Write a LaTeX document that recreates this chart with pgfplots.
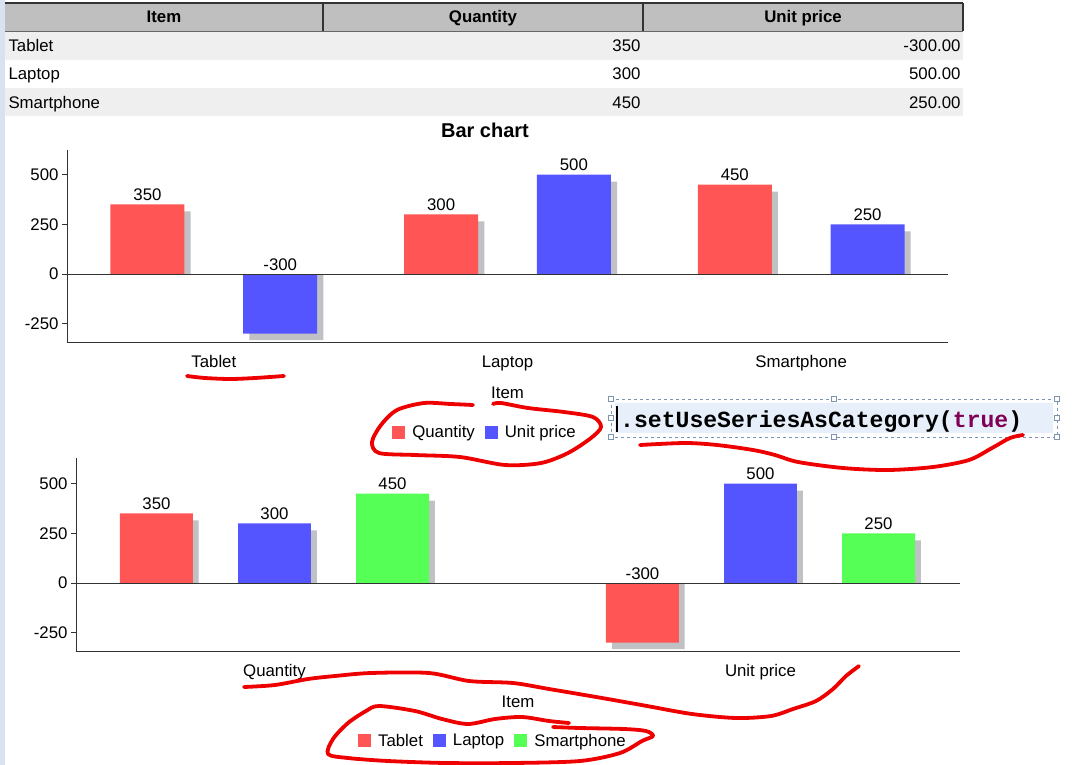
\documentclass[border=0pt]{standalone}
\usepackage{pgfplots}
\pgfplotsset{compat=1.18}
\usepackage{fontspec}
\setmainfont{Liberation Sans}
\newfontfamily\codefont{Liberation Mono}
\usepackage{xcolor}
\definecolor{barred}{HTML}{FF5555}
\definecolor{barblue}{HTML}{5555FF}
\definecolor{bargreen}{HTML}{55FF55}
\definecolor{shadowgray}{HTML}{C0C1C4}
\definecolor{hdrgray}{HTML}{BFBFBF}
\definecolor{rowgray}{HTML}{EFEFEF}
\definecolor{strip}{HTML}{D9E3EF}
\definecolor{codebg}{HTML}{E6EFFA}
\definecolor{codeline}{HTML}{7C94B0}
\definecolor{kw}{HTML}{7F0055}
\definecolor{ink}{HTML}{EE0000}
\newcommand\fs{\fontsize{16.8}{20}\selectfont}

\pgfplotsset{
  jfree/.style={
    scale only axis, anchor=south west,
    axis lines*=left,
    axis line style={draw=black!80, line width=0.8pt},
    tick align=outside, major tick length=5pt,
    ytick={-250,0,250,500}, ytick pos=left,
    y tick style={black!80, line width=0.8pt},
    x tick style={draw=none},
    tick label style={font=\fs},
    /pgf/number format/assume math mode=true,
    xticklabel style={yshift=-5pt},
    every axis x label/.style={at={(axis description cs:0.5,0)}, anchor=center, yshift=-51pt, font=\fs},
    legend columns=-1,
    legend style={draw=none, fill=none, font=\fs, anchor=center,
      /tikz/every odd column/.append style={column sep=5pt},
      /tikz/every even column/.append style={column sep=8pt}},
    legend image code/.code={\fill[##1] (0pt,-6.5pt) rectangle (13pt,6.5pt);},
    nodes near coords style={font=\fs, black},
    clip=false,
  },
  shadow/.style={ybar, fill=shadowgray, draw=none, forget plot},
  % value labels: zero-height bars at the top of each bar (or at 0 for negative ones)
  lbl/.style={ybar, bar shift=0, draw=none, fill=none, forget plot, point meta=explicit symbolic,
    nodes near coords={\pgfplotspointmeta},
    every node near coord/.append style={xshift=#1}},
}

\begin{document}
\begin{tikzpicture}[x=1pt, y=1pt, font=\fs]
% background, side strip and data table
\begin{scope}[yscale=-1]
\fill[white] (0,0) rectangle (1076,765);
\fill[strip] (0,0) rectangle (5,765);
\fill[hdrgray] (5,3) rectangle (963,31);
\fill[rowgray] (5,31) rectangle (963,60);
\fill[rowgray] (5,88) rectangle (963,116);
\draw[black!80, line width=1.5pt] (5,3) -- (963,3);
\draw[black!60, line width=0.8pt] (5,31) -- (963,31);
\foreach \xx in {323,643,963} \draw[black!80, line width=1.5pt] (\xx,3) -- (\xx,31);
\node[font=\fs\bfseries, anchor=base] at (164,23) {Item};
\node[font=\fs\bfseries, anchor=base] at (483,23) {Quantity};
\node[font=\fs\bfseries, anchor=base] at (803,23) {Unit price};
\node[anchor=base west] at (5,51.5) {Tablet};
\node[anchor=base west] at (5,80) {Laptop};
\node[anchor=base west] at (5,108.5) {Smartphone};
\node[anchor=base east] at (644,51.5) {350};
\node[anchor=base east] at (644,80) {300};
\node[anchor=base east] at (644,108.5) {450};
\node[anchor=base east] at (964,51.5) {-300.00};
\node[anchor=base east] at (964,80) {500.00};
\node[anchor=base east] at (964,108.5) {250.00};
\node[font=\fontsize{20}{24}\selectfont\bfseries] at (485,130) {Bar chart};
\end{scope}

% chart 1: series are Quantity and Unit price
\begin{axis}[jfree, at={(67pt,-342pt)}, width=881pt, height=192pt,
  xmin=-0.5, xmax=2.5, ymin=-342, ymax=624,
  xtick={0,1,2}, xticklabels={Tablet,Laptop,Smartphone},
  xlabel={Item},
  legend style={at={(0.4745,-0.469)}}]
\addplot[shadow, bar width=0.252, bar shift=-0.205] coordinates {(0,315) (1,265) (2,415)};
\addplot[shadow, bar width=0.252, bar shift=0.247] coordinates {(0,-332) (1,465) (2,215)};
\addplot[ybar, bar width=0.252, bar shift=-0.226, fill=barred, draw=none]
  coordinates {(0,350) (1,300) (2,450)};
\addlegendentry{Quantity}
\addplot[ybar, bar width=0.252, bar shift=0.226, fill=barblue, draw=none]
  coordinates {(0,-300) (1,500) (2,250)};
\addlegendentry{Unit price}
\addplot[lbl=-66.4pt] coordinates {(0,350) [350] (1,300) [300] (2,450) [450]};
\addplot[lbl=66.4pt] coordinates {(0,0) [-300] (1,500) [500] (2,250) [250]};
\draw[black!80, line width=0.8pt] (axis cs:-0.5,0) -- (axis cs:2.5,0);
\end{axis}

% chart 2: series are Tablet, Laptop and Smartphone
\begin{axis}[jfree, at={(76pt,-651pt)}, width=884pt, height=193pt,
  xmin=-0.4084, xmax=1.4105, ymin=-342, ymax=629,
  xtick={0,1}, xticklabels={Quantity,Unit price},
  xlabel={Item},
  legend style={at={(0.4717,-0.466)}}]
\addplot[shadow, bar width=0.150, bar shift=-0.231] coordinates {(0,315) (1,-332)};
\addplot[shadow, bar width=0.150, bar shift=0.012] coordinates {(0,265) (1,465)};
\addplot[shadow, bar width=0.150, bar shift=0.255] coordinates {(0,415) (1,215)};
\addplot[ybar, bar width=0.150, bar shift=-0.243, fill=barred, draw=none]
  coordinates {(0,350) (1,-300)};
\addlegendentry{Tablet}
\addplot[ybar, bar width=0.150, bar shift=0, fill=barblue, draw=none]
  coordinates {(0,300) (1,500)};
\addlegendentry{Laptop}
\addplot[ybar, bar width=0.150, bar shift=0.243, fill=bargreen, draw=none]
  coordinates {(0,450) (1,250)};
\addlegendentry{Smartphone}
\addplot[lbl=-118pt] coordinates {(0,350) [350] (1,0) [-300]};
\addplot[lbl=0pt] coordinates {(0,300) [300] (1,500) [500]};
\addplot[lbl=118pt] coordinates {(0,450) [450] (1,250) [250]};
\draw[black!80, line width=0.8pt] (axis cs:-0.4084,0) -- (axis cs:1.4105,0);
\end{axis}

% code snippet box and hand-drawn marks
\begin{scope}[yscale=-1]
\fill[codebg] (615,403) rectangle (1053,433);
\draw[codeline, dashed, line width=0.7pt] (611,399) rectangle (1057,437);
\foreach \hx/\hy in {611/399,834/399,1057/399,611/418,1057/418,611/437,834/437,1057/437}
  \draw[codeline, fill=white, line width=0.6pt] (\hx-2.5,\hy-2.5) rectangle (\hx+2.5,\hy+2.5);
\draw[black, line width=1.8pt] (617,406) -- (617,432);
\node[anchor=base west, inner sep=0pt] at (620,427)
  {\codefont\bfseries\fontsize{23.1}{26}\selectfont .setUseSeriesAsCategory(\textcolor{kw}{true})};
\begin{scope}[ink, line width=3.8pt, line cap=round, line join=round]
\draw plot[smooth, tension=0.5] coordinates {(187,376) (205,378) (230,379) (255,378) (284,376)};
\draw plot[smooth, tension=0.5] coordinates {(473,405) (451,404) (424,403) (397,410) (381,425)
  (372,442) (379,453) (415,455) (460,457) (505,465) (541,463) (568,453) (591,438) (601,427)
  (593,417) (564,412) (528,408) (501,403) (493,404)};
\draw plot[smooth, tension=0.5] coordinates {(640,445) (685,443) (717,445) (753,450) (775,455)
  (798,462) (843,468) (888,470) (933,467) (969,460) (992,448) (1010,438) (1023,435)};
\draw plot[smooth, tension=0.5] coordinates {(244,687) (275,685) (308,679) (335,676) (371,673)
  (429,673) (469,681) (513,683) (549,689) (602,698) (647,706) (692,714) (736,718) (771,716)
  (793,709) (816,701) (833,689) (846,676) (859,666)};
\draw plot[smooth, tension=0.5] coordinates {(569,723) (549,721) (522,717) (495,719) (468,724)
  (442,719) (415,711) (379,706) (366,711) (348,723) (333,739) (328,754) (348,758) (388,761)
  (446,763) (513,763) (580,761) (620,753) (642,741) (653,736) (646,731) (624,729) (580,728)
  (553,727)};
\end{scope}
\end{scope}
\pgfresetboundingbox
\path (0,0) rectangle (1076,-765);
\end{tikzpicture}
\end{document}
